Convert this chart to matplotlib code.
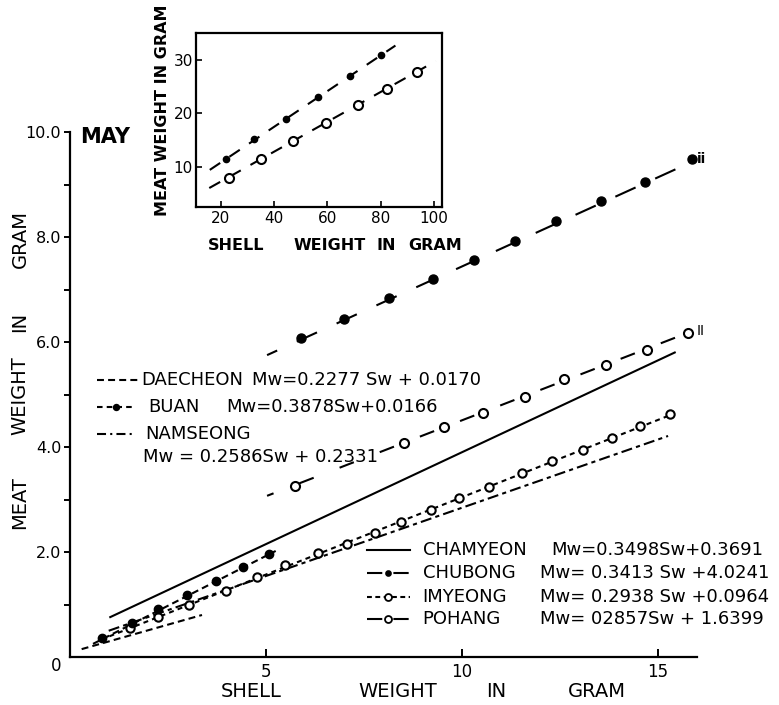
import matplotlib
matplotlib.use("Agg")
import matplotlib.pyplot as plt
from matplotlib.ticker import FixedLocator

plt.rcParams["font.family"] = ["DejaVu Sans"]
plt.rcParams["lines.scale_dashes"] = False

# ---------------- data ----------------
# main panel (May): shell weight (g) vs meat weight (g)
chubong_x = [5.91, 6.99, 8.15, 9.28, 10.31, 11.36, 12.42, 13.57, 14.69, 15.87]
chubong_y = [6.08, 6.44, 6.83, 7.20, 7.56, 7.92, 8.31, 8.69, 9.05, 9.48]
chubong_line_x = [5.04, 15.55]
chubong_line_y = [5.75, 9.32]

pohang_x = [5.74, 8.54, 9.56, 10.54, 11.61, 12.61, 13.68, 14.74, 15.79]
pohang_y = [3.26, 4.07, 4.39, 4.64, 4.96, 5.29, 5.56, 5.85, 6.18]
pohang_line_x = [5.04, 15.79]
pohang_line_y = [3.07, 6.18]

chamyeon_line_x = [1.04, 15.44]
chamyeon_line_y = [0.76, 5.80]

imyeong_x = [1.55, 2.25, 3.06, 3.98, 4.79, 5.51, 6.35, 7.07, 7.79, 8.45,
             9.22, 9.94, 10.71, 11.55, 12.31, 13.10, 13.84, 14.55, 15.33]
imyeong_y = [0.55, 0.76, 1.00, 1.26, 1.52, 1.75, 1.98, 2.15, 2.37, 2.58,
             2.80, 3.02, 3.24, 3.50, 3.73, 3.95, 4.18, 4.40, 4.62]
imyeong_line_x = [0.80, 15.40]
imyeong_line_y = [0.33, 4.63]

namseong_line_x = [1.00, 15.27]
namseong_line_y = [0.50, 4.21]

buan_x = [0.84, 1.59, 2.27, 3.01, 3.74, 4.43, 5.10]
buan_y = [0.37, 0.64, 0.92, 1.18, 1.45, 1.72, 1.96]
buan_line_x = [0.60, 5.26]
buan_line_y = [0.25, 2.02]

daecheon_line_x = [0.31, 3.38]
daecheon_line_y = [0.15, 0.80]

# inset panel: shell weight (g) vs meat weight (g)
ins_fill_x = [21.9, 32.6, 44.6, 56.6, 68.6, 80.0]
ins_fill_y = [11.5, 15.2, 19.0, 23.1, 27.0, 30.9]
ins_fill_line_x = [15.8, 85.6]
ins_fill_line_y = [9.4, 32.7]

ins_open_x = [22.9, 34.9, 47.2, 59.5, 71.4, 82.5, 93.9]
ins_open_y = [7.9, 11.4, 14.8, 18.2, 21.5, 24.6, 27.7]
ins_open_line_x = [15.6, 100.8]
ins_open_line_y = [6.0, 29.8]

main_xticks = [5, 10, 15]
main_xticklabels = ["5", "10", "15"]
main_yticks = [2, 4, 6, 8, 10]
main_yticklabels = ["2.0", "4.0", "6.0", "8.0", "10.0"]
main_yminor = [1, 3, 5, 7, 9]
ins_xticks = [20, 40, 60, 80, 100]
ins_yticks = [10, 20, 30]

legend_upper = [
    ("DAECHEON", "Mw=0.2277 Sw + 0.0170"),
    ("BUAN", "Mw=0.3878Sw+0.0166"),
    ("NAMSEONG", "Mw = 0.2586Sw + 0.2331"),
]
legend_lower = [
    ("CHAMYEON", "Mw=0.3498Sw+0.3691"),
    ("CHUBONG", "Mw= 0.3413 Sw +4.0241"),
    ("IMYEONG", "Mw= 0.2938 Sw +0.0964"),
    ("POHANG", "Mw= 02857Sw + 1.6399"),
]

# ---------------- figure ----------------
W, H = 779, 705
fig = plt.figure(figsize=(W / 100, H / 100), dpi=100)
fig.patch.set_facecolor("white")


def box(l, t, r, b):
    return [l / W, 1 - b / H, (r - l) / W, (b - t) / H]


K = "black"
LW = 1.5

ax = fig.add_axes(box(69.5, 132, 696.7, 657))
ax.set_xlim(0, 16)
ax.set_ylim(0, 10)
for s in ("top", "right"):
    ax.spines[s].set_visible(False)
for s in ("left", "bottom"):
    ax.spines[s].set_linewidth(1.6)
ax.set_xticks(main_xticks)
ax.set_xticklabels(main_xticklabels)
ax.set_yticks(main_yticks)
ax.set_yticklabels(main_yticklabels)
ax.yaxis.set_minor_locator(FixedLocator(main_yminor))
ax.tick_params(axis="x", direction="in", length=6, width=1.4, pad=4, labelsize=12)
ax.tick_params(axis="y", which="both", direction="out", length=4, width=1.4,
               pad=2, labelsize=11.5)
ax.text(-0.33, -0.17, "0", ha="center", va="center", fontsize=12, clip_on=False)

open_kw = dict(marker="o", ls="none", mfc="white", mec=K, mew=1.5, ms=6.5, zorder=4)
fill_kw = dict(marker="o", ls="none", mfc=K, mec=K, ms=6.5, zorder=4)

# CHUBONG (long dash, filled dots)
ax.plot(chubong_line_x, chubong_line_y, color=K, lw=LW, ls=(8, (16, 15.5)))
ax.plot(chubong_x, chubong_y, **fill_kw)
# POHANG (long dash, open circles)
ax.plot(pohang_line_x, pohang_line_y, color=K, lw=LW, ls=(6, (11, 20)))
ax.plot(pohang_x, pohang_y, **open_kw)
# CHAMYEON (solid)
ax.plot(chamyeon_line_x, chamyeon_line_y, color=K, lw=LW)
# IMYEONG (short dashes, open circles)
ax.plot(imyeong_line_x, imyeong_line_y, color=K, lw=LW, ls=(0, (3.6, 3)))
ax.plot(imyeong_x, imyeong_y, **{**open_kw, "ms": 6})
# NAMSEONG (dash-dot)
ax.plot(namseong_line_x, namseong_line_y, color=K, lw=LW, ls=(0, (8, 3, 3, 3)))
# BUAN (short dashes, filled dots)
ax.plot(buan_line_x, buan_line_y, color=K, lw=LW, ls=(0, (5, 3)))
ax.plot(buan_x, buan_y, **{**fill_kw, "ms": 6})
# DAECHEON (short dashes)
ax.plot(daecheon_line_x, daecheon_line_y, color=K, lw=LW, ls=(0, (5, 3)))

# ---------------- inset ----------------
ins = fig.add_axes(box(195.7, 33.3, 441.7, 206.7))
ins.set_xlim(10.5, 103)
ins.set_ylim(2.5, 35)
for s in ins.spines.values():
    s.set_linewidth(1.6)
ins.set_xticks(ins_xticks)
ins.set_yticks(ins_yticks)
ins.tick_params(direction="in", length=4, width=1.2, labelsize=11, pad=3)
ins.tick_params(axis="y", pad=2)
ins.plot(ins_fill_line_x, ins_fill_line_y, color=K, lw=LW, ls=(0, (9, 8)))
ins.plot(ins_fill_x, ins_fill_y, marker="o", ls="none", mfc=K, mec=K, ms=4.5)
ins.plot(ins_open_line_x, ins_open_line_y, color=K, lw=LW, ls=(0, (9, 8)))
ins.plot(ins_open_x, ins_open_y, marker="o", ls="none", mfc="white", mec=K,
         mew=1.5, ms=6.5)

# ---------------- overlay for labels and legends (pixel coordinates) ----------------
ov = fig.add_axes([0, 0, 1, 1], zorder=10)
ov.set_xlim(0, W)
ov.set_ylim(H, 0)
ov.axis("off")
ov.patch.set_alpha(0)

# main axis labels
for word, xc in (("SHELL", 251.5), ("WEIGHT", 397.5), ("IN", 496.5), ("GRAM", 596.5)):
    ov.text(xc, 691.7, word, ha="center", va="center", fontsize=14)
for word, yc in (("GRAM", 238.5), ("IN", 322), ("WEIGHT", 395.5), ("MEAT", 502.5)):
    ov.text(20, yc, word, ha="center", va="center", fontsize=14, rotation=90)

ov.text(80, 137, "MAY", ha="left", va="center", fontsize=15, fontweight="bold")

# inset labels
for word, xc in (("SHELL", 236.5), ("WEIGHT", 329.5), ("IN", 386.5), ("GRAM", 435)):
    ov.text(xc, 245, word, ha="center", va="center", fontsize=11.5, fontweight="bold")
ov.text(162.5, 110, "MEAT WEIGHT IN GRAM", ha="center", va="center",
        fontsize=11.5, fontweight="bold", rotation=90)

# break marks at line ends
ov.text(697, 159, "ii", ha="left", va="center", fontsize=10, fontweight="bold")
ov.text(697, 331, "II", ha="left", va="center", fontsize=10)


def sample(y, x0, x1, ls, marker=None, filled=True, ms=4):
    ov.plot([x0, x1], [y, y], color=K, lw=LW, ls=ls)
    if marker:
        ov.plot([(x0 + x1) / 2], [y], marker=marker, ls="none",
                mfc=K if filled else "white", mec=K, mew=1.3, ms=ms, zorder=5)


FS = 13
# upper-left legend
sample(380, 96.7, 140, (0, (5, 3)))
ov.text(141.7, 380, legend_upper[0][0], ha="left", va="center", fontsize=FS)
ov.text(251.7, 380, legend_upper[0][1], ha="left", va="center", fontsize=FS)
sample(406.7, 96.7, 135, (0, (4, 3)), marker="o", filled=True, ms=4)
ov.text(148.3, 406.7, legend_upper[1][0], ha="left", va="center", fontsize=FS)
ov.text(226.7, 406.7, legend_upper[1][1], ha="left", va="center", fontsize=FS)
sample(434, 96.7, 133, (0, (6.5, 3, 1.5, 3)))
ov.text(145, 434, legend_upper[2][0], ha="left", va="center", fontsize=FS)
ov.text(143.3, 457, legend_upper[2][1], ha="left", va="center", fontsize=FS)

# lower-right legend
rows = [550, 573.3, 596.7, 619.3]
eq_x = [551.7, 540, 540, 540]
sample(rows[0], 366.7, 410, "-")
sample(rows[1], 366.7, 410, (0, (11, 8)), marker="o", filled=True, ms=3.5)
sample(rows[2], 366.7, 410, (0, (3.5, 2.5)), marker="o", filled=False, ms=5)
sample(rows[3], 366.7, 410, (0, (11, 8)), marker="o", filled=False, ms=5)
for (name, eq), y, ex in zip(legend_lower, rows, eq_x):
    ov.text(422.7, y, name, ha="left", va="center", fontsize=FS)
    ov.text(ex, y, eq, ha="left", va="center", fontsize=FS)

fig.savefig("out.png", dpi=100, facecolor="white")
